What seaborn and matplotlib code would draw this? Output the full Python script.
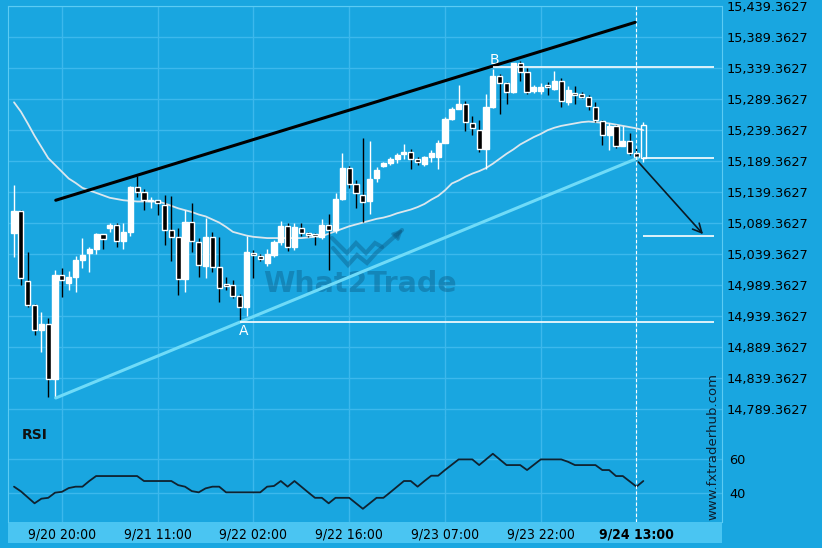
import numpy as np
import pandas as pd
import matplotlib.pyplot as plt
import seaborn as sns
from matplotlib.patches import Rectangle

sns.set_style("dark")
plt.rcParams['font.family'] = ['DejaVu Sans']

BG = '#19a6e0'
GRID = '#3cb8ec'
BORDER = '#5ccbf3'
BAND = '#4ac5f2'

# candles (hourly)
opens = [15073, 15108, 14996, 14957, 14917, 14926, 14837, 15005, 14992, 15003,
         15030, 15041, 15047, 15071, 15082, 15086, 15061, 15074, 15148, 15139,
         15125, 15126, 15119, 15078, 15067, 14999, 15091, 15058, 15020, 15067,
         15019, 14991, 14989, 14971, 14954, 15041, 15036, 15025, 15038, 15059,
         15084, 15050, 15081, 15073, 15071, 15066, 15086, 15078, 15128, 15178,
         15152, 15134, 15125, 15162, 15181, 15186, 15192, 15200, 15204, 15192,
         15184, 15196, 15196, 15219, 15257, 15274, 15281, 15250, 15240, 15208,
         15277, 15327, 15315, 15301, 15347, 15333, 15303, 15302, 15312, 15305,
         15319, 15285, 15299, 15297, 15292, 15277, 15254, 15231, 15246, 15214,
         15222, 15203, 15194]
highs = [15151, 15110, 15043, 14958, 14946, 14936, 15013, 15016, 15012, 15036,
         15065, 15051, 15073, 15071, 15090, 15089, 15089, 15149, 15165, 15144,
         15131, 15127, 15135, 15133, 15081, 15110, 15121, 15065, 15097, 15075,
         15067, 15002, 14997, 14975, 15068, 15045, 15040, 15048, 15062, 15093,
         15090, 15089, 15089, 15074, 15073, 15095, 15104, 15137, 15203, 15181,
         15159, 15227, 15222, 15180, 15188, 15195, 15203, 15217, 15208, 15195,
         15198, 15207, 15223, 15261, 15277, 15312, 15286, 15262, 15255, 15298,
         15338, 15329, 15317, 15347, 15350, 15339, 15312, 15315, 15317, 15334,
         15323, 15310, 15310, 15301, 15296, 15285, 15255, 15250, 15247, 15245,
         15234, 15210, 15253]
lows = [15034, 14989, 14954, 14909, 14882, 14809, 14807, 14970, 14981, 14978,
        15016, 15011, 15040, 15048, 15075, 15050, 15048, 15068, 15131, 15110,
        15113, 15102, 15054, 15028, 14973, 14978, 15043, 15002, 15000, 15011,
        14962, 14981, 14968, 14931, 14939, 15000, 15028, 15020, 15035, 15054,
        15044, 15046, 15068, 15067, 15054, 15064, 15013, 15073, 15126, 15145,
        15113, 15091, 15104, 15156, 15179, 15183, 15186, 15193, 15177, 15183,
        15181, 15188, 15177, 15218, 15255, 15273, 15238, 15231, 15204, 15177,
        15275, 15265, 15282, 15299, 15318, 15297, 15299, 15298, 15296, 15304,
        15277, 15280, 15281, 15291, 15272, 15253, 15215, 15207, 15210, 15214,
        15199, 15191, 15188]
closes = [15109, 15000, 14957, 14917, 14926, 14837, 15005, 14997, 15003, 15030,
          15038, 15047, 15071, 15063, 15086, 15061, 15074, 15148, 15140, 15127,
          15127, 15122, 15078, 15067, 14999, 15091, 15061, 15022, 15067, 15019,
          14985, 14988, 14971, 14954, 15043, 15038, 15032, 15039, 15058, 15084,
          15051, 15083, 15073, 15070, 15068, 15086, 15078, 15128, 15178, 15153,
          15138, 15123, 15161, 15175, 15186, 15192, 15199, 15204, 15193, 15188,
          15195, 15202, 15219, 15257, 15274, 15281, 15253, 15242, 15208, 15277,
          15327, 15315, 15301, 15347, 15333, 15301, 15308, 15309, 15308, 15319,
          15286, 15304, 15296, 15293, 15278, 15255, 15231, 15246, 15214, 15222,
          15202, 15195, 15247]
moving_avg = [15284, 15269, 15250, 15230, 15212, 15194, 15183, 15172, 15161, 15154,
              15146, 15142, 15138, 15134, 15130, 15128, 15126, 15125, 15124, 15124,
              15124, 15124, 15121, 15117, 15113, 15110, 15107, 15103, 15100, 15095,
              15090, 15083, 15075, 15072, 15069, 15067, 15066, 15065, 15065, 15065,
              15065, 15065, 15065, 15066, 15067, 15068, 15072, 15076, 15080, 15084,
              15087, 15090, 15093, 15096, 15098, 15101, 15105, 15108, 15111, 15115,
              15120, 15127, 15133, 15142, 15153, 15158, 15164, 15169, 15173, 15178,
              15185, 15193, 15201, 15208, 15216, 15222, 15228, 15233, 15239, 15243,
              15246, 15248, 15250, 15252, 15253, 15252, 15251, 15250, 15248, 15246,
              15244, 15242, 15239]
rsi = [43.9, 41.2, 37.7, 34.2, 36.9, 37.4, 40.4, 40.9, 43.1, 43.9,
       43.9, 47.2, 50.1, 50.1, 50.1, 50.1, 50.1, 50.1, 50.1, 47.2,
       47.2, 47.2, 47.2, 47.2, 44.8, 43.9, 41.3, 40.6, 42.9, 43.9,
       43.9, 40.6, 40.6, 40.6, 40.6, 40.6, 40.6, 43.9, 44.3, 47.2,
       43.9, 47.2, 43.9, 40.6, 37.4, 37.4, 34.2, 37.4, 37.4, 37.4,
       34.2, 31.0, 34.2, 37.4, 37.4, 40.6, 43.9, 47.2, 47.2, 43.9,
       47.2, 50.3, 50.3, 53.6, 56.7, 59.8, 59.8, 59.8, 56.5, 59.8,
       63.1, 59.8, 56.5, 56.5, 56.5, 53.6, 56.7, 59.8, 59.8, 59.8,
       59.8, 58.4, 56.5, 56.5, 56.5, 56.5, 53.6, 53.6, 50.1, 50.1,
       47.0, 43.9, 47.2]

# pattern lines (candle index, price)
upper_x, upper_y = [6.1, 90.8], [15126, 15413]
lower_x, lower_y = [6.1, 91.2], [14807, 15194]
level_b = (70.0, 102.3, 15341)
level_a = (33.0, 102.3, 14930)
level_now = (92.0, 102.3, 15194)
level_target = (92.0, 102.3, 15068)
arrow_from, arrow_to = (91.0, 15191), (101.0, 15068)
point_a, point_b = (33.6, 14915), (70.2, 15352)
signal_idx = 91

price_ticks = [14789.3627, 14839.3627, 14889.3627, 14939.3627, 14989.3627,
               15039.3627, 15089.3627, 15139.3627, 15189.3627, 15239.3627,
               15289.3627, 15339.3627, 15389.3627, 15439.3627]
time_pos = [7, 21, 35, 49, 63, 77, 91]
time_labels = ['9/20 20:00', '9/21 11:00', '9/22 02:00', '9/22 16:00',
               '9/23 07:00', '9/23 22:00', '9/24 13:00']

df = pd.DataFrame({'open': opens, 'high': highs, 'low': lows, 'close': closes,
                   'ma': moving_avg, 'rsi': rsi})
df['idx'] = np.arange(len(df))
df['up'] = df['close'] >= df['open']
df['col'] = np.where(df['up'], 'white', 'black')

W, H = 822, 548
fig = plt.figure(figsize=(W / 100, H / 100), dpi=100, facecolor=BG)
ax = fig.add_axes([8 / W, 1 - 415 / H, 714 / W, 409 / H])
ax_r = fig.add_axes([8 / W, 1 - 522 / H, 714 / W, 107 / H], sharex=ax)

# band under the time axis
fig.add_artist(Rectangle((8 / W, 1 - 543 / H), 714 / W, 21 / H, transform=fig.transFigure,
                         facecolor=BAND, edgecolor='none', zorder=-1))

for a in (ax, ax_r):
    a.set_facecolor(BG)
    a.grid(True, color=GRID, lw=1)
    a.set_axisbelow(True)
    for s in a.spines.values():
        s.set_visible(False)

ax.spines['top'].set_visible(True)
for a in (ax, ax_r):
    for side in ('left', 'right'):
        a.spines[side].set_visible(True)
        a.spines[side].set_color(BORDER)
ax.spines['top'].set_color(BORDER)

# watermark
def px(x, y):
    return (x - 8) / 714, (415 - y) / 409

wm = '#0d5f8a'
for pts in ([(332, 238), (347, 253), (356, 243), (366, 253), (375, 243), (382, 247)],
            [(333, 248), (348, 265), (357, 255), (367, 263), (376, 253), (402, 230)]):
    xy = np.array([px(*p) for p in pts])
    ax.plot(xy[:, 0], xy[:, 1], transform=ax.transAxes, color=wm, alpha=0.45, lw=3,
            solid_joinstyle='miter', zorder=1)
ax.annotate('', xy=px(405, 227), xytext=px(395, 237), xycoords='axes fraction',
            arrowprops=dict(arrowstyle='-|>', color=wm, alpha=0.45, lw=2, mutation_scale=14))
ax.text(*px(360, 284), 'What2Trade', transform=ax.transAxes, ha='center', va='center',
        fontsize=20.5, fontweight='bold', color=wm, alpha=0.45, zorder=1)

# candles
body_lo = df[['open', 'close']].min(axis=1)
body_h = (df['close'] - df['open']).abs().clip(lower=1.8)
last = df.index[-1]
ax.vlines(df['idx'][:-1], df['low'][:-1], df['high'][:-1], colors=df['col'][:-1], lw=1, zorder=3)
ax.bar(df['idx'][:-1], body_h[:-1], bottom=body_lo[:-1], width=0.75,
       color=df['col'][:-1], zorder=4)
ax.vlines(df['idx'][last], df['low'][last], body_lo[last], colors='white', lw=1, zorder=3)
ax.vlines(df['idx'][last], body_lo[last] + body_h[last], df['high'][last], colors='white', lw=1, zorder=3)
ax.bar(df['idx'][last], body_h[last], bottom=body_lo[last], width=0.75,
       facecolor='none', edgecolor='white', lw=1, zorder=4)

sns.lineplot(data=df, x='idx', y='ma', ax=ax, color='#dbe7ee', lw=1.3, zorder=2)

# pattern
ax.plot(upper_x, upper_y, color='black', lw=2.2, zorder=5)
ax.plot(lower_x, lower_y, color='#6fdbf8', lw=2.2, zorder=5)
for x0, x1, yv in (level_b, level_a, level_now, level_target):
    ax.hlines(yv, x0, x1, color='white', lw=1.2, zorder=5)
ax.annotate('', xy=arrow_to, xytext=arrow_from,
            arrowprops=dict(arrowstyle='->', color='#0a1a24', lw=1.2, mutation_scale=16), zorder=6)
ax.text(*point_a, 'A', color='white', fontsize=10, ha='center', va='center')
ax.text(*point_b, 'B', color='white', fontsize=10, ha='center', va='center')

for a in (ax, ax_r):
    a.axvline(signal_idx, color='white', lw=0.8, ls=(0, (3, 2)), zorder=6)

ax.set_xlim(-0.88, 103.5)
ax.set_ylim(14779.6, 15439.36)
ax.set_yticks(price_ticks)
ax.set_yticklabels([f'{t:,.4f}' for t in price_ticks])
ax.yaxis.tick_right()
ax.tick_params(axis='y', length=0, pad=3, labelsize=9.3, labelcolor='black')
ax.tick_params(axis='x', length=0, labelbottom=False)
ax.set_xlabel('')
ax.set_ylabel('')

# RSI panel
sns.lineplot(data=df, x='idx', y='rsi', ax=ax_r, color='#0f2230', lw=1.3)
ax_r.set_ylim(23.3, 85.7)
ax_r.set_yticks([40, 60])
ax_r.yaxis.tick_right()
ax_r.tick_params(axis='y', length=0, pad=5, labelsize=9.3, labelcolor='black')
ax_r.set_xticks(time_pos)
ax_r.set_xticklabels(time_labels, fontsize=10, fontstretch='condensed')
ax_r.tick_params(axis='x', length=0, pad=4, labelcolor='black')
ax_r.get_xticklabels()[-1].set_fontweight('bold')
ax_r.set_xlabel('')
ax_r.set_ylabel('')

fig.text(35 / W, 1 - 435 / H, 'RSI', ha='center', va='center', fontsize=10,
         fontweight='bold', color='#111111')
fig.text(713 / W, 1 - 446 / H, 'www.fxtraderhub.com', rotation=90, ha='center', va='center',
         fontsize=9.5, color='#0d2030')

fig.savefig('out.png', dpi=100, facecolor=BG)
